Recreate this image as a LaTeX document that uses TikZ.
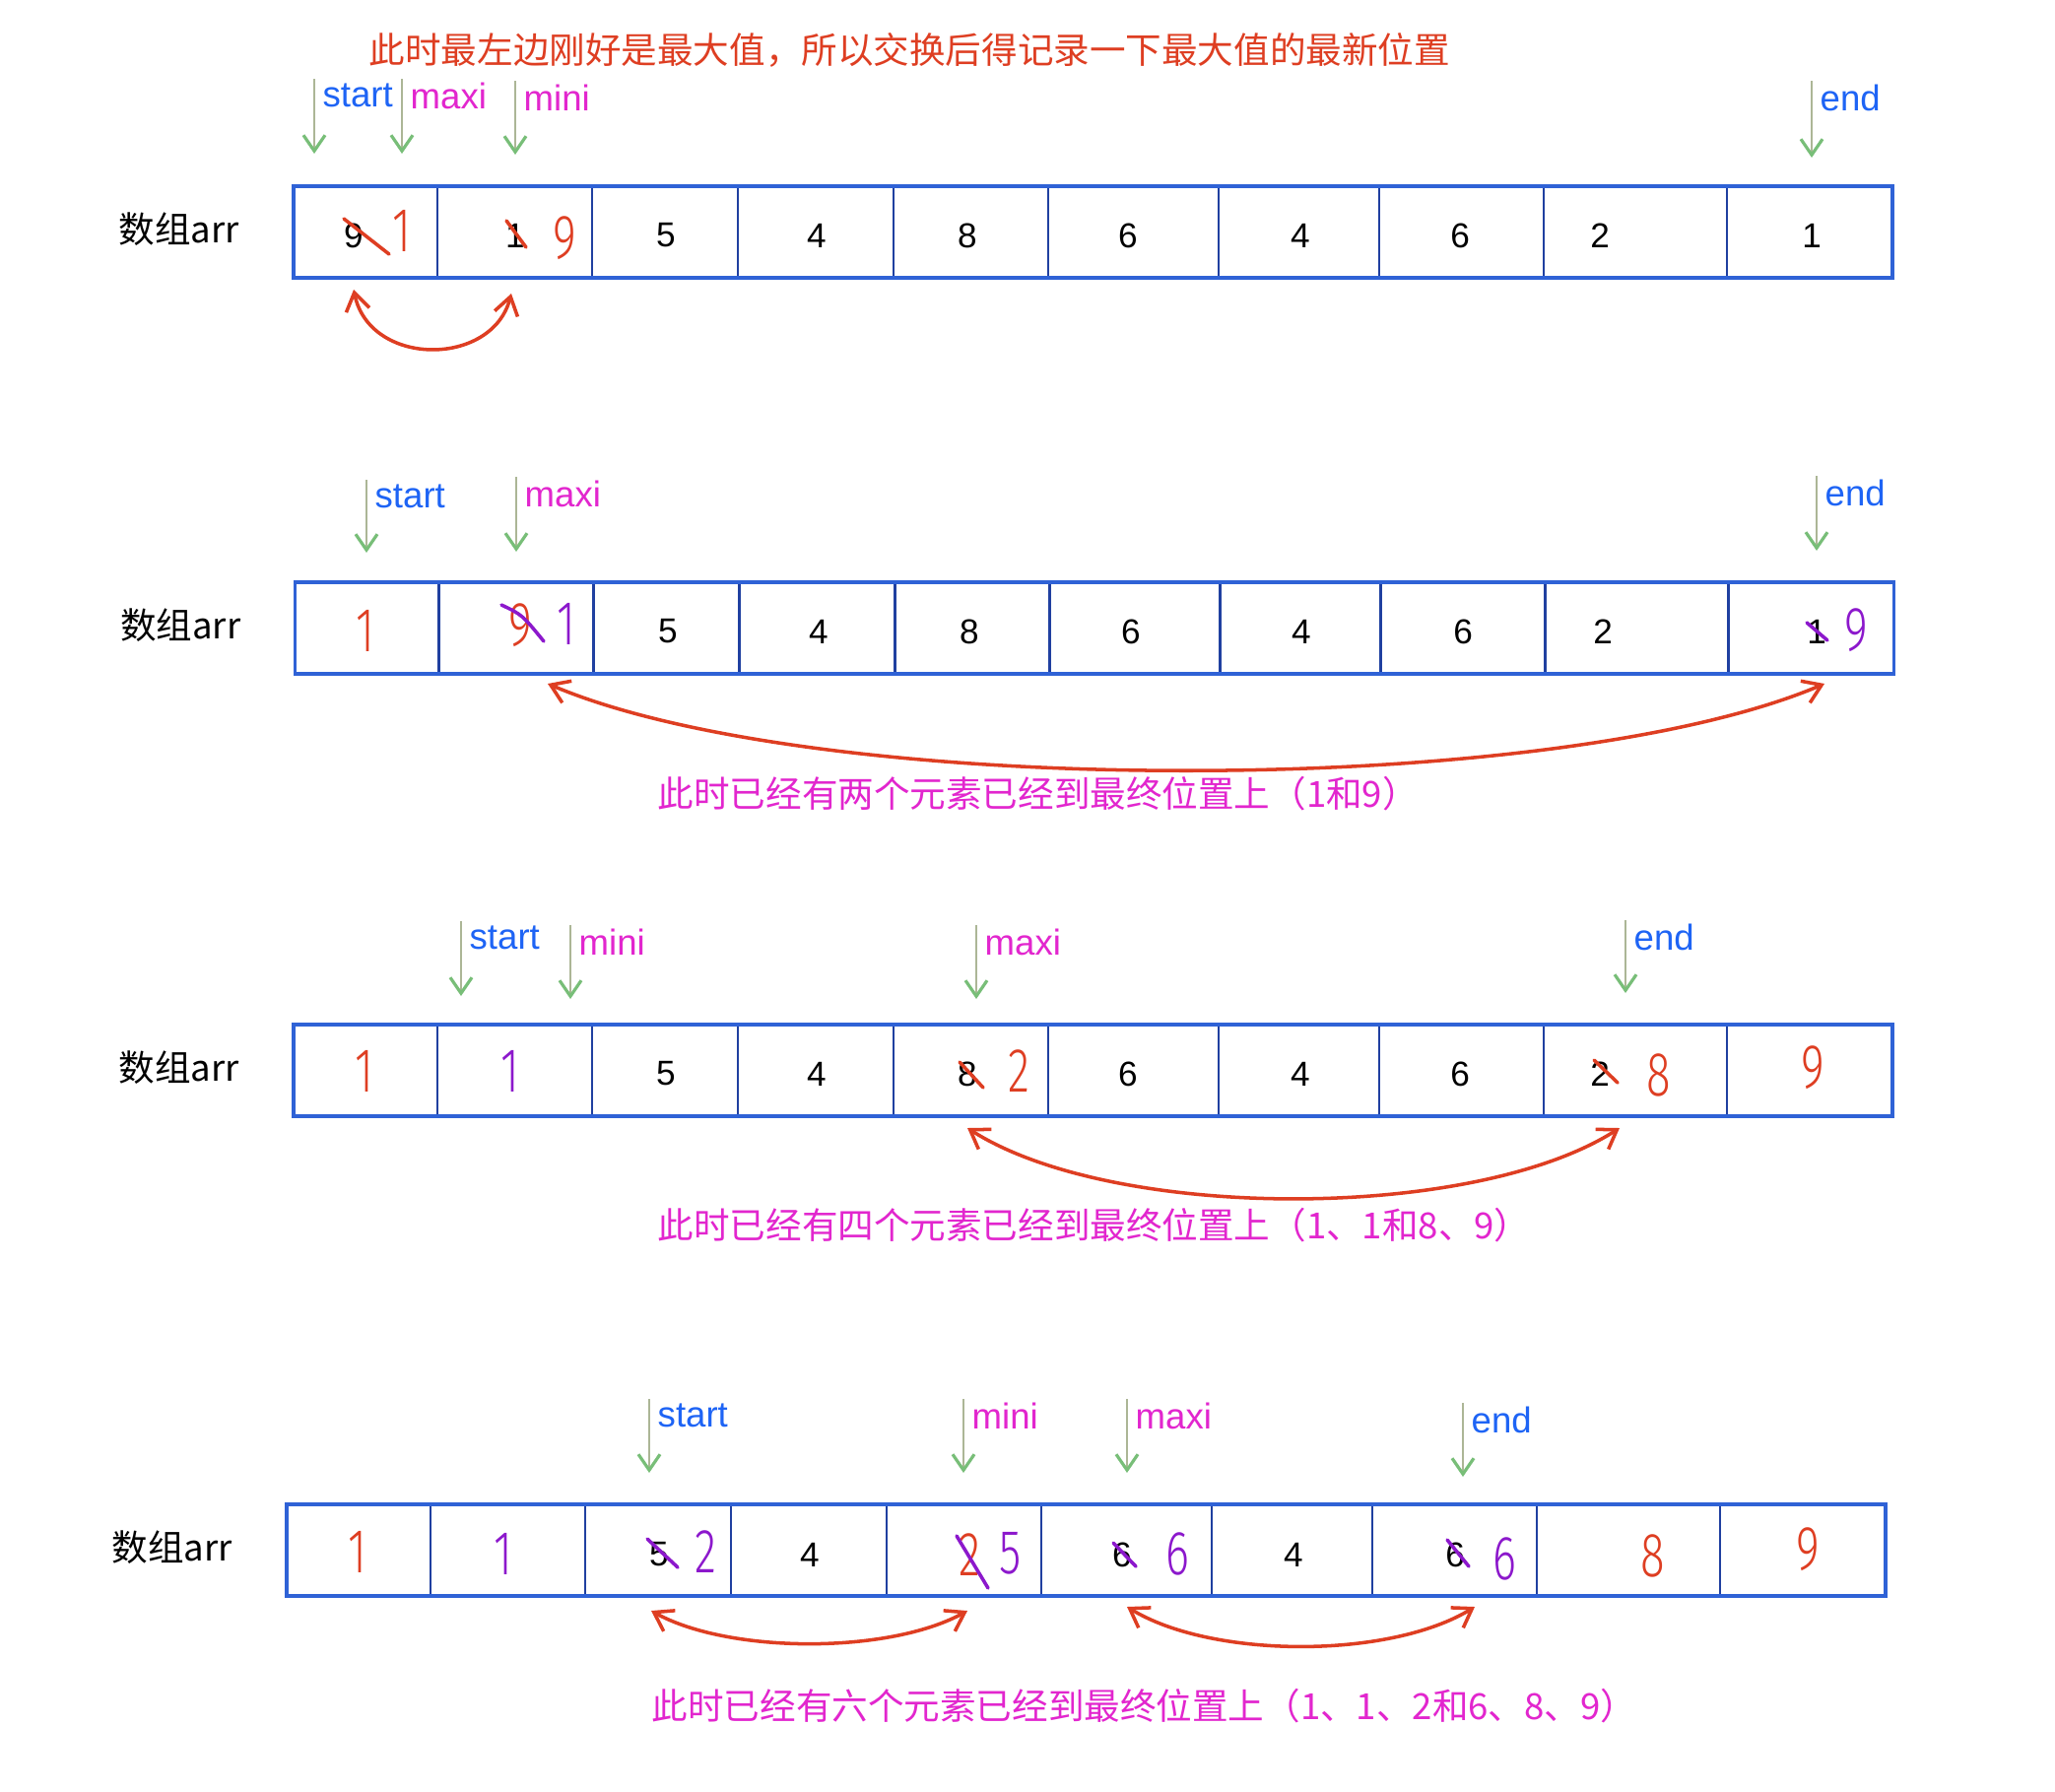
\documentclass[tikz,border=0pt]{standalone}
\usepackage{fontspec}
\setmainfont{Liberation Sans}
\newfontfamily\cjk{Noto Sans CJK SC}
\newfontfamily\hand{Fira Sans Light}[FakeStretch=0.72]
\usetikzlibrary{arrows.meta}
\definecolor{boxblue}{RGB}{47,98,214}
\definecolor{lineblue}{RGB}{32,64,160}
\definecolor{txtblue}{RGB}{30,100,245}
\definecolor{txtpink}{RGB}{226,38,206}
\definecolor{penred}{RGB}{222,62,34}
\definecolor{penpurple}{RGB}{140,24,204}
\definecolor{ptrshaft}{RGB}{172,182,150}
\definecolor{ptrhead}{RGB}{120,190,120}

\begin{document}
\begin{tikzpicture}[x=0.01cm,y=-0.01cm]
   \useasboundingbox[fill=white] (0,0) rectangle (2086,1818);
   \tikzstyle{num}=[font=\fontsize{10}{12}\selectfont, inner sep=0pt]
   \tikzstyle{pen}=[font=\hand\fontsize{18}{20}\selectfont, inner sep=0pt]
   \tikzstyle{lab}=[font=\fontsize{10.4}{12}\selectfont, anchor=west, inner sep=0pt]
   \tikzstyle{note}=[font=\cjk\fontsize{10.4}{12}\selectfont, anchor=west, inner sep=0pt]
   \tikzstyle{ptr}=[ptrshaft, line width=0.7pt, arrows={-Straight Barb[color=ptrhead,line width=0.9pt,length=1.6mm,width=2.2mm]}]
   \tikzstyle{swap}=[penred, line width=1pt, arrows={Straight Barb[length=1.8mm,width=2.4mm]-Straight Barb[length=1.8mm,width=2.4mm]}]
   \tikzstyle{strike}=[line width=1pt, line cap=round]
   % the four arrays
   \foreach \r/\dx/\yt in {1/0/189,2/1.5/591,3/0/1040,4/-7/1527} {
       \begin{scope}[shift={(\dx,\yt)}]
           \node[note] (arr\r) at (120,44) {数组arr};
           \foreach \x in {444,601,749,907,1064,1237,1400,1567,1753}
               \draw[lineblue, line width=0.8pt] (\x,0) -- (\x,93);
           \draw[boxblue, line width=1.1pt] (298,0) rectangle (1921,93);
       \end{scope}
   }
   \node[note, text=penred] (tip) at (374,51) {此时最左边刚好是最大值，所以交换后得记录一下最大值的最新位置};
   % pointers
   \foreach \n/\x/\yt/\yb/\lab/\col in {p1s/319/80/156/start/txtblue, p1a/408/80/156/maxi/txtpink,
       p1i/523/82/157/mini/txtpink, p1e/1839/82/160/end/txtblue,
       p2s/372/487/561/start/txtblue, p2a/524/484/560/maxi/txtpink, p2e/1844/483/559/end/txtblue,
       p3s/468/935/1011/start/txtblue, p3i/579/939/1014/mini/txtpink, p3a/991/939/1014/maxi/txtpink,
       p3e/1650/934/1008/end/txtblue,
       p4s/659/1420/1495/start/txtblue, p4i/978/1420/1495/mini/txtpink, p4a/1144/1420/1495/maxi/txtpink,
       p4e/1485/1424/1499/end/txtblue} {
       \coordinate (\n-t) at (\x,\yt);
       \coordinate (\n-b) at (\x,\yb);
       \draw[ptr] (\n-t) -- (\n-b);
       \node[lab, text=\col] (\n-l) at (\x+8,\yt+17) {\lab};
   }
   % row 1
   \foreach \x/\d [count=\i] in {359/9,523/1,676/5,829/4,982/8,1145/6,1320/4,1482/6,1624/2,1839/1}
       \node[num] (r1n\i) at (\x,239) {\d};
   \draw[strike, penred] (349,222) -- (395,258);
   \draw[strike, penred] (514,224) -- (534,251);
   \node[pen, text=penred] (r1h1) at (408,234) {1};
   \node[pen, text=penred] (r1h2) at (573,242) {9};
   \coordinate (s1a) at (359,294);
   \coordinate (s1b) at (519,298);
   \draw[swap] (s1a) .. controls (375,373) and (500,373) .. (s1b);
   % row 2
   \foreach \x/\d [count=\i] in {678/5,831/4,984/8,1148/6,1321/4,1485/6,1627/2,1844/1}
       \node[num] (r2n\i) at (\x,641) {\d};
   \node[pen, text=penred] (r2h1) at (371,640) {1};
   \node[pen, text=penred] (r2h2) at (528,635) {9};
   \draw[strike, penpurple] (509,614) .. controls (530,624) .. (552,651);
   \node[pen, text=penpurple] (r2h3) at (575,633) {1};
   \draw[strike, penpurple] (1834,632) -- (1855,650);
   \node[pen, text=penpurple] (r2h4) at (1884,640) {9};
   \coordinate (s2a) at (556,694);
   \coordinate (s2b) at (1852,694);
   \draw[swap] (s2a) .. controls (830,811) and (1578,811) .. (s2b);
   \node[note, text=txtpink] (msg2) at (667,806) {此时已经有两个元素已经到最终位置上（1和9）};
   % row 3
   \foreach \x/\d [count=\i] in {676/5,829/4,982/8,1145/6,1320/4,1482/6,1624/2}
       \node[num] (r3n\i) at (\x,1090) {\d};
   \node[pen, text=penred] (r3h1) at (370,1087) {1};
   \node[pen, text=penpurple] (r3h2) at (518,1087) {1};
   \draw[strike, penred] (974,1078) -- (998,1104);
   \node[pen, text=penred] (r3h3) at (1034,1087) {2};
   \draw[strike, penred] (1618,1076) -- (1642,1099);
   \node[pen, text=penred] (r3h4) at (1684,1091) {8};
   \node[pen, text=penred] (r3h5) at (1840,1084) {9};
   \coordinate (s3a) at (982,1145);
   \coordinate (s3b) at (1644,1145);
   \draw[swap] (s3a) .. controls (1130,1240) and (1496,1240) .. (s3b);
   \node[note, text=txtpink] (msg3) at (667,1244) {此时已经有四个元素已经到最终位置上（1、1和8、9）};
   % row 4
   \foreach \x/\d [count=\i] in {669/5,822/4,1139/6,1313/4,1477/6}
       \node[num] (r4n\i) at (\x,1578) {\d};
   \node[pen, text=penred] (r4h1) at (363,1575) {1};
   \node[pen, text=penpurple] (r4h2) at (511,1577) {1};
   \draw[strike, penpurple] (657,1562) -- (688,1591);
   \node[pen, text=penpurple] (r4h3) at (716,1575) {2};
   \node[pen, text=penred] (r4h4) at (984,1578) {2};
   \draw[strike, penpurple] (971,1559) -- (1003,1612);
   \node[pen, text=penpurple] (r4h5) at (1026,1577) {5};
   \draw[strike, penpurple] (1130,1566) -- (1153,1590);
   \node[pen, text=penpurple] (r4h6) at (1195,1577) {6};
   \draw[strike, penpurple] (1469,1563) -- (1491,1590);
   \node[pen, text=penpurple] (r4h7) at (1527,1582) {6};
   \node[pen, text=penred] (r4h8) at (1678,1579) {8};
   \node[pen, text=penred] (r4h9) at (1835,1573) {9};
   \coordinate (s4a) at (661,1635);
   \coordinate (s4b) at (982,1635);
   \draw[swap] (s4a) .. controls (740,1679) and (903,1679) .. (s4b);
   \coordinate (s4c) at (1144,1631);
   \coordinate (s4d) at (1497,1631);
   \draw[swap] (s4c) .. controls (1230,1684) and (1411,1684) .. (s4d);
   \node[note, text=txtpink] (msg4) at (661,1732) {此时已经有六个元素已经到最终位置上（1、1、2和6、8、9）};
\end{tikzpicture}
\end{document}
